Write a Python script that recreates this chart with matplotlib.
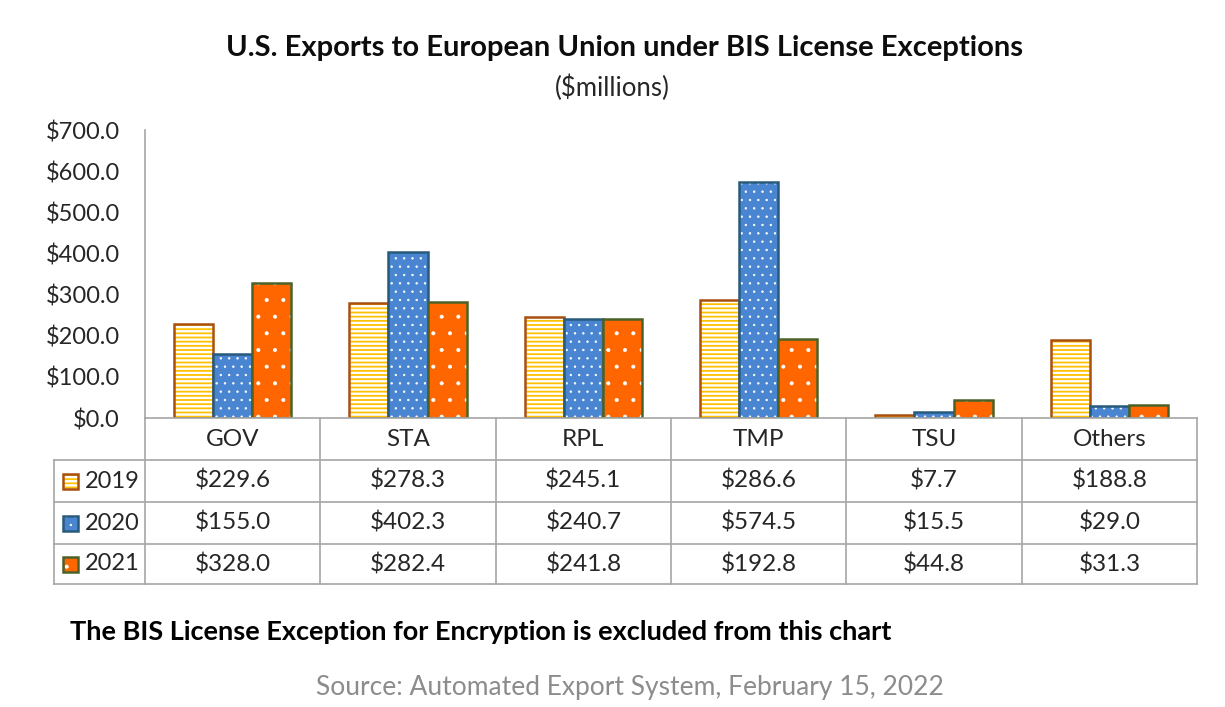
import numpy as np
import matplotlib.pyplot as plt
from matplotlib.patches import Rectangle
from matplotlib.lines import Line2D

plt.rcParams['font.family'] = ['Lato', 'DejaVu Sans']

categories = ['GOV', 'STA', 'RPL', 'TMP', 'TSU', 'Others']
years = ['2019', '2020', '2021']
v2019 = [229.6, 278.3, 245.1, 286.6, 7.7, 188.8]
v2020 = [155.0, 402.3, 240.7, 574.5, 15.5, 29.0]
v2021 = [328.0, 282.4, 241.8, 192.8, 44.8, 31.3]
yticks = [0, 100, 200, 300, 400, 500, 600, 700]

series = [v2019, v2020, v2021]
faces = ['#FFC000', '#4A85D1', '#FF6600']
edges = ['#A9500F', '#285A7C', '#4A6228']
hatches = ['----', '..', '.']
hatch_lw = [1.7, 0.5, 0.45]

W, H = 1225, 707
fig = plt.figure(figsize=(12.25, 7.07), dpi=100)


def fx(px):
    return px / W


def fy(py):
    return 1 - py / H


def hatch_width(artists, lw):
    for a in artists:
        if hasattr(a, 'set_hatch_linewidth'):
            a.set_hatch_linewidth(lw)


x0, x1 = 145, 1197
ytop, ybase = 130, 418
ax = fig.add_axes([fx(x0), fy(ybase), fx(x1) - fx(x0), fy(ytop) - fy(ybase)])

x = np.arange(len(categories)) + 0.5
w = 0.223
for k, vals in enumerate(series):
    pos = x + (k - 1) * w
    with plt.rc_context({'hatch.linewidth': hatch_lw[k]}):
        bars = ax.bar(pos, vals, w, color=faces[k], edgecolor='white', hatch=hatches[k], linewidth=0)
    hatch_width(bars, hatch_lw[k])
    ax.bar(pos, vals, w, fill=False, edgecolor=edges[k], linewidth=1.8)

ax.set_xlim(0, len(categories))
ax.set_ylim(0, 700)
ax.set_yticks(yticks)
ax.set_yticklabels([f'${t:.1f}' for t in yticks], fontsize=17, color='#262626')
ax.tick_params(axis='y', length=0, pad=18)
ax.set_xticks([])
for s in ['top', 'right']:
    ax.spines[s].set_visible(False)
for s in ['left', 'bottom']:
    ax.spines[s].set_color('#A6A6A6')
    ax.spines[s].set_linewidth(1.2)

# data table under the axis
gcol = '#A6A6A6'
row_y = [418, 460, 502, 544, 584]
bounds = np.linspace(x0, x1, len(categories) + 1)


def hline(y, xa, xb):
    fig.add_artist(Line2D([fx(xa), fx(xb)], [fy(y), fy(y)], color=gcol, lw=1.2))


def vline(xp, ya, yb):
    fig.add_artist(Line2D([fx(xp), fx(xp)], [fy(ya), fy(yb)], color=gcol, lw=1.2))


for y in row_y[1:]:
    hline(y, 54, x1)
for b in bounds:
    vline(b, 418, 584)
vline(54, 460, 584)

for i, c in enumerate(categories):
    cx = (bounds[i] + bounds[i + 1]) / 2
    fig.text(fx(cx), fy(439), c, ha='center', va='center', fontsize=17.5, color='#262626')
    for k, vals in enumerate(series):
        cy = (row_y[k + 1] + row_y[k + 2]) / 2
        fig.text(fx(cx), fy(cy), f'${vals[i]:.1f}', ha='center', va='center',
                 fontsize=17.5, color='#262626')

for k, yr in enumerate(years):
    cy = (row_y[k + 1] + row_y[k + 2]) / 2
    with plt.rc_context({'hatch.linewidth': hatch_lw[k]}):
        r = Rectangle((fx(63), fy(cy + 7.5)), fx(15), 15 / H, transform=fig.transFigure,
                      facecolor=faces[k], edgecolor='white', hatch=hatches[k], linewidth=0)
    hatch_width([r], hatch_lw[k])
    fig.add_artist(r)
    fig.add_artist(Rectangle((fx(63), fy(cy + 7.5)), fx(15), 15 / H, transform=fig.transFigure,
                             fill=False, edgecolor=edges[k], linewidth=1.8))
    fig.text(fx(85), fy(cy), yr, ha='left', va='center', fontsize=17, color='#262626')

fig.text(fx(625), fy(48), 'U.S. Exports to European Union under BIS License Exceptions',
         ha='center', va='center', fontsize=21, fontweight='bold', color='#0D0D0D')
fig.text(fx(612), fy(88), '($millions)', ha='center', va='center', fontsize=18.5, color='#262626')
fig.text(fx(70), fy(632), 'The BIS License Exception for Encryption is excluded from this chart',
         ha='left', va='center', fontsize=19.5, fontweight='bold', color='#000000')
fig.text(fx(630), fy(688), 'Source: Automated Export System, February 15, 2022',
         ha='center', va='center', fontsize=19, color='#8C8C8C')

fig.savefig('out.png', dpi=100)
